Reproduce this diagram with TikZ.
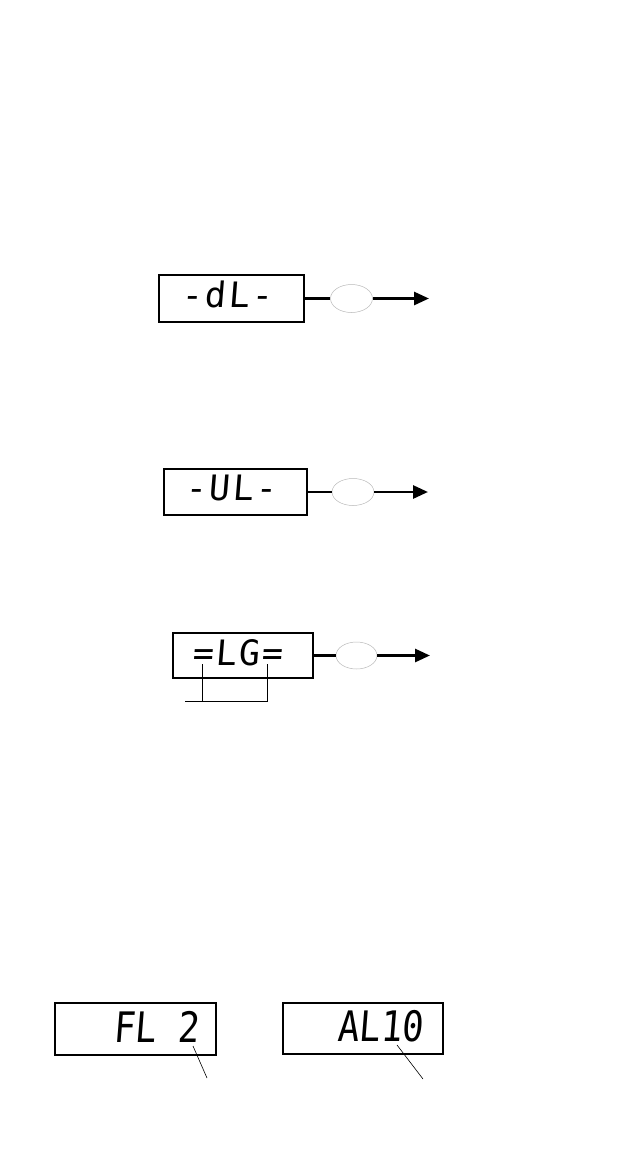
\documentclass[tikz,border=0pt]{standalone}
\usepackage{fontspec}
\usetikzlibrary{arrows.meta,shapes.geometric}
\newfontfamily\lcdfont{DejaVu Sans Mono}[FakeSlant=0.08, FakeStretch=0.85]
\newfontfamily\lcdwide{DejaVu Sans Mono}[FakeSlant=0.08, LetterSpace=6]
\tikzstyle{lcdbox}=[rectangle, draw, line width=1.1pt, inner sep=0pt]
\tikzstyle{lcd}=[inner sep=0pt, anchor=base, font=\lcdwide\fontsize{35pt}{35pt}\selectfont]
\tikzstyle{lcdbig}=[lcd, font=\lcdfont\fontsize{42pt}{42pt}\selectfont]
\tikzstyle{keybtn}=[ellipse, draw=gray!55, line width=0.5pt, minimum width=42pt, minimum height=28pt, inner sep=0pt]
\tikzstyle{feed}=[line width=2.8pt]
\tikzstyle{feedarrow}=[feed, -{Triangle[length=15pt,width=13pt]}]
\tikzstyle{pointer}=[line width=0.6pt]
\newcommand{\lcdbox}{\node[lcdbox]}
\newcommand{\keybtn}{\node[keybtn]}

\begin{document}
\begin{tikzpicture}[x=1pt,y=-1pt]
	\useasboundingbox (0,0) rectangle (618,1156);
	% dL
	\lcdbox[minimum width=145pt, minimum height=47pt] (dlbox) at (231.5,298.5) {};
	\node[lcd] (dltext) at (227,307) {-dL-};
	\keybtn (dlkey) at (351.5,298.5) {};
	\coordinate (dlend) at (429,298.5);
	% UL
	\lcdbox[minimum width=143pt, minimum height=46pt] (ulbox) at (235.5,492) {};
	\node[lcd] (ultext) at (231,500) {-UL-};
	\keybtn[minimum width=42pt, minimum height=27pt] (ulkey) at (353,492) {};
	\coordinate (ulend) at (428,492);
	% LG
	\lcdbox[minimum width=140pt, minimum height=45pt] (lgbox) at (243,655.5) {};
	\node[lcd] (lgtext) at (237.5,665) {=LG=};
	\keybtn[minimum width=41pt, minimum height=27pt] (lgkey) at (356.5,655.5) {};
	\coordinate (lgend) at (430,655.5);
	\coordinate (lga) at (202,664);
	\coordinate (lgb) at (267,664);
	\coordinate (lgfoot) at (185,701);
	% FL 2 and AL10
	\lcdbox[minimum width=161pt, minimum height=52pt] (flbox) at (135.5,1029) {};
	\node[lcdbig] (fltext) at (156,1042) {FL 2};
	\lcdbox[minimum width=160pt, minimum height=51pt] (albox) at (363,1028.5) {};
	\node[lcdbig] (altext) at (380,1041) {AL10};
	\coordinate (fltip) at (193,1046);
	\coordinate (flend) at (207,1078);
	\coordinate (altip) at (397,1045);
	\coordinate (alend) at (423,1079);

	\draw[feed] (dlbox.east) -- (dlkey.west);
	\draw[feedarrow] (dlkey.east) -- (dlend);
	\draw[feed] (ulbox.east) -- (ulkey.west);
	\draw[feedarrow] (ulkey.east) -- (ulend);
	\draw[feed] (lgbox.east) -- (lgkey.west);
	\draw[feedarrow] (lgkey.east) -- (lgend);
	\draw[pointer] (lga) -- (lga |- lgfoot);
	\draw[pointer] (lgb) -- (lgb |- lgfoot) -- (lgfoot);
	\draw[pointer] (fltip) -- (flend);
	\draw[pointer] (altip) -- (alend);
\end{tikzpicture}
\end{document}
